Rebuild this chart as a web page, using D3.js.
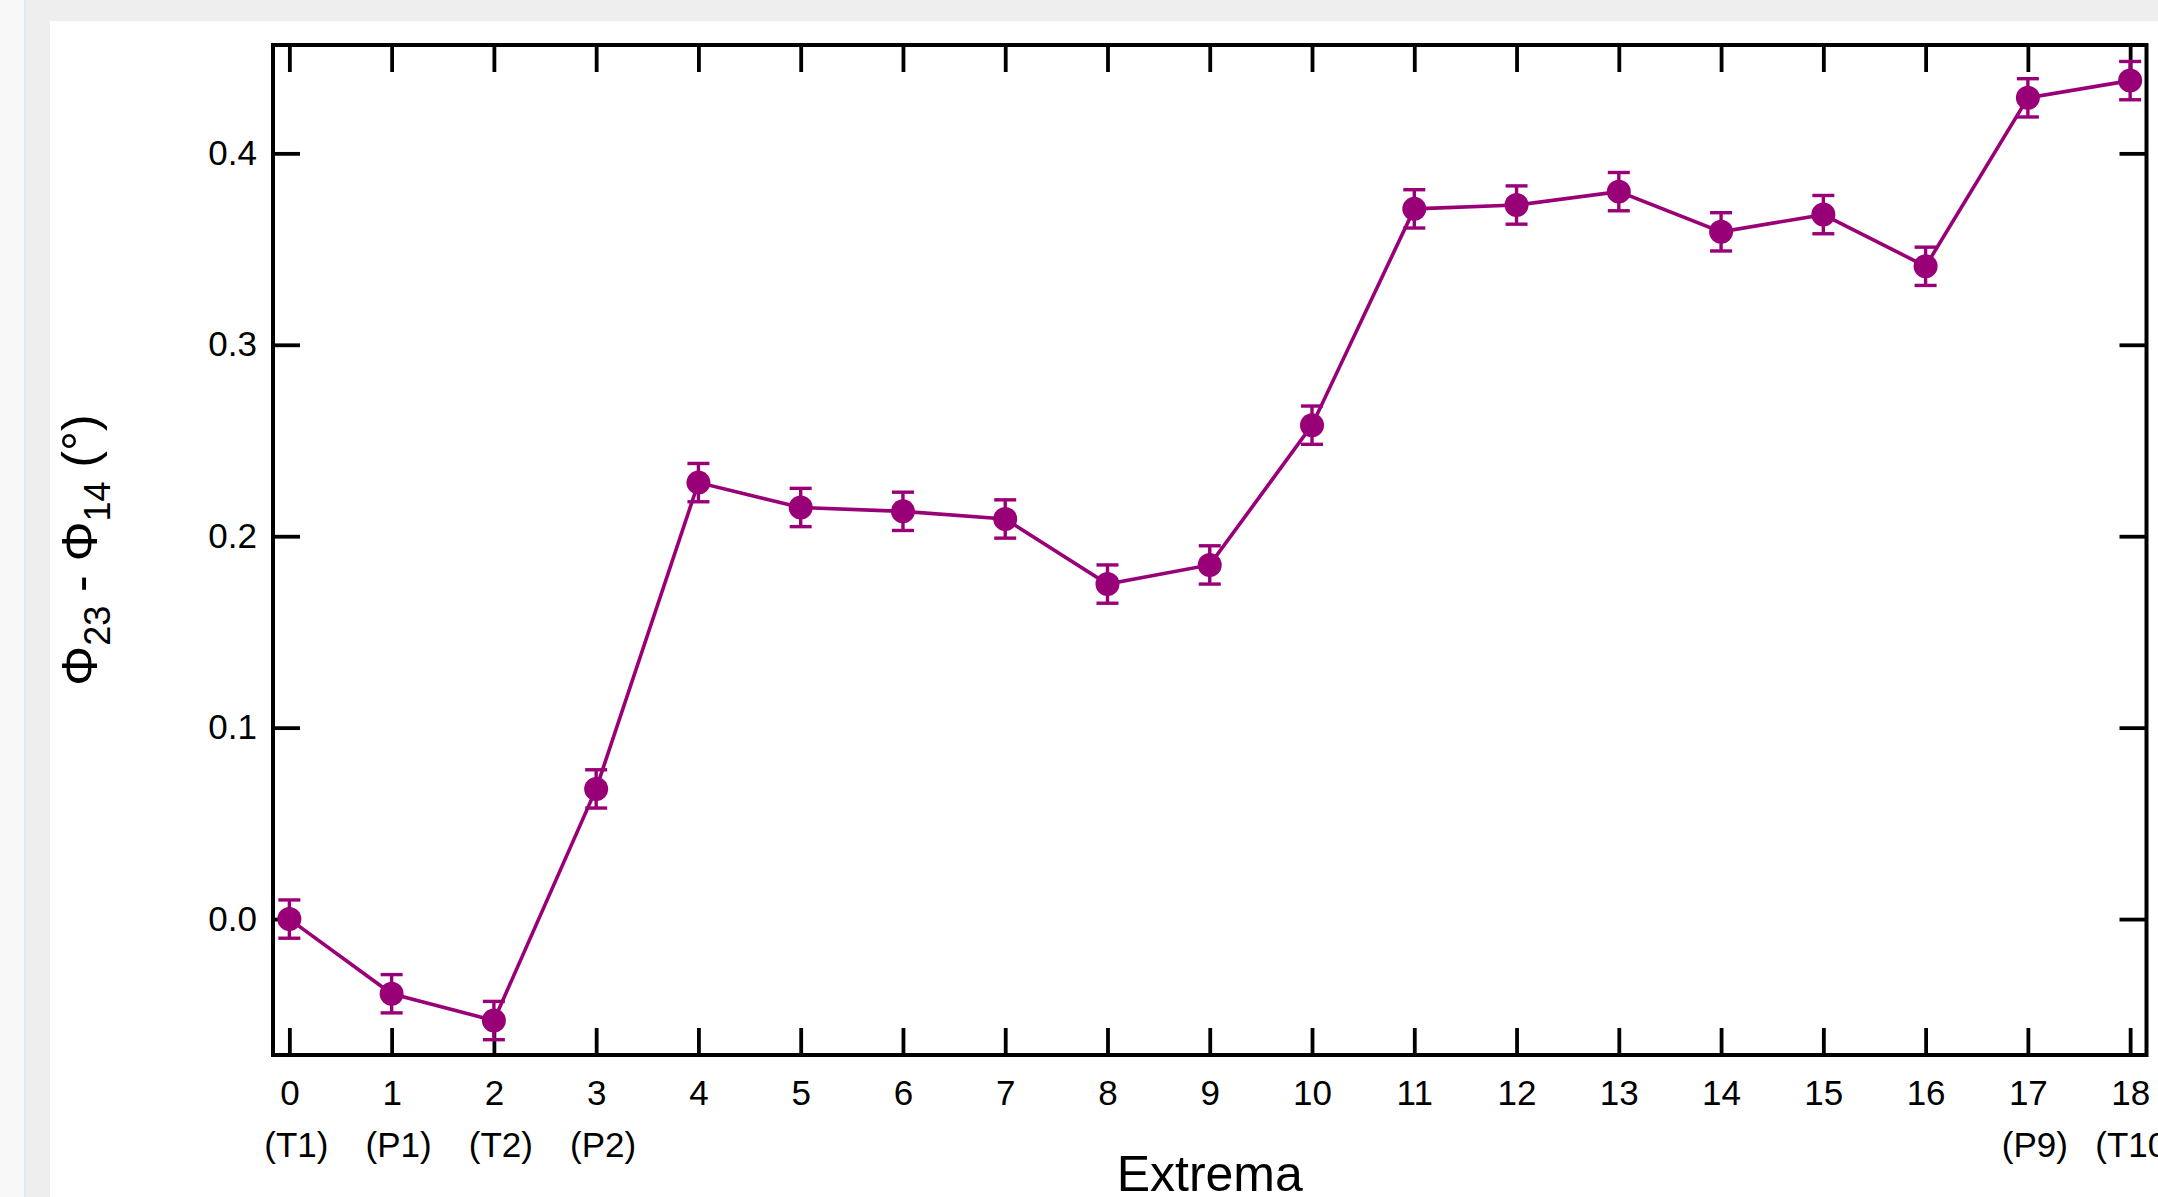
<!DOCTYPE html>
<html>
<head>
<meta charset="utf-8">
<script src="https://cdn.jsdelivr.net/npm/d3@7"></script>
<style>
  html, body { margin: 0; padding: 0; background: #eeeeee; overflow: hidden; }
  svg { display: block; }
  text { font-family: "Liberation Sans", Arial, Helvetica, sans-serif; fill: #000; }
</style>
</head>
<body>
<svg id="chart" width="2158" height="1197"></svg>
<script>
// ---- data ----
const extremaIndex = [0,1,2,3,4,5,6,7,8,9,10,11,12,13,14,15,16,17,18];
const phaseDiff    = [0.000,-0.039,-0.053,0.068,0.228,0.215,0.213,0.209,0.175,0.185,0.258,0.371,0.373,0.380,0.359,0.368,0.341,0.429,0.438];
const phaseErr     = [0.010,0.010,0.010,0.010,0.010,0.010,0.010,0.010,0.010,0.010,0.010,0.010,0.010,0.010,0.010,0.010,0.010,0.010,0.010];
const yTickValues  = [0.0,0.1,0.2,0.3,0.4];
const tagIndex     = [0,1,2,3,17,18];
const tagLabels    = ["(T1)","(P1)","(T2)","(P2)","(P9)","(T10)"];

const color = "#990077";
const svg = d3.select("#chart");

// page background pieces
svg.append("rect").attr("x",0).attr("y",0).attr("width",2158).attr("height",1197).attr("fill","#eeeeee");
svg.append("rect").attr("x",0).attr("y",0).attr("width",24).attr("height",1197).attr("fill","#f8f8f8");
svg.append("rect").attr("x",24).attr("y",0).attr("width",2).attr("height",1197).attr("fill","#e1eaf4");
svg.append("rect").attr("x",50).attr("y",21).attr("width",2108).attr("height",1176).attr("fill","#ffffff");

const L = 273, R = 2146.5, T = 45, B = 1055;
const x = d3.scaleLinear().domain([-0.16, 18.16]).range([L, R]);
const y = d3.scaleLinear().domain([-0.071, 0.4566]).range([B, T]);

const tickLen = 27;
const fs = 35;

function styleAxis(g){
  g.select(".domain").remove();
  g.selectAll(".tick line").attr("stroke","#000").attr("stroke-width",3.8);
  g.selectAll(".tick text").attr("font-size",fs).attr("font-family","'Liberation Sans', Arial, sans-serif").attr("fill","#000");
}

// bottom axis
svg.append("g").attr("transform",`translate(0,${B})`)
  .call(d3.axisBottom(x).tickValues(extremaIndex).tickFormat(d3.format("d")).tickSizeInner(-tickLen).tickSizeOuter(0).tickPadding(25))
  .call(styleAxis);
// top axis
svg.append("g").attr("transform",`translate(0,${T})`)
  .call(d3.axisTop(x).tickValues(extremaIndex).tickFormat("").tickSizeInner(-tickLen).tickSizeOuter(0))
  .call(styleAxis);
// left axis
svg.append("g").attr("transform",`translate(${L},0)`)
  .call(d3.axisLeft(y).tickValues(yTickValues).tickFormat(d3.format(".1f")).tickSizeInner(-tickLen).tickSizeOuter(0).tickPadding(16))
  .call(styleAxis);
// right axis
svg.append("g").attr("transform",`translate(${R},0)`)
  .call(d3.axisRight(y).tickValues(yTickValues).tickFormat("").tickSizeInner(-tickLen).tickSizeOuter(0))
  .call(styleAxis);

// frame
svg.append("rect").attr("x",L).attr("y",T).attr("width",R-L).attr("height",B-T)
  .attr("fill","none").attr("stroke","#000").attr("stroke-width",4);

// secondary labels
svg.append("g").selectAll("text").data(tagIndex).join("text")
  .attr("x",(d)=>x(d)+7).attr("y",1157).attr("text-anchor","middle").attr("font-size",fs)
  .text((d,i)=>tagLabels[i]);

// axis titles
svg.append("text").attr("x",(L+R)/2).attr("y",1191).attr("text-anchor","middle").attr("font-size",50).text("Extrema");

const yt = svg.append("text").attr("transform","translate(97,550) rotate(-90)").attr("text-anchor","middle").attr("font-size",50);
yt.append("tspan").text("Φ");
yt.append("tspan").attr("font-size",36).attr("dy",13).text("23");
yt.append("tspan").attr("dy",-13).text(" - Φ");
yt.append("tspan").attr("font-size",36).attr("dy",13).text("14");
yt.append("tspan").attr("dy",-13).text(" (°)");

// data
const pts = extremaIndex.map((d,i)=>({i:d, v:phaseDiff[i], e:phaseErr[i]}));
svg.append("path").datum(pts)
  .attr("d", d3.line().x(d=>x(d.i)).y(d=>y(d.v)))
  .attr("fill","none").attr("stroke",color).attr("stroke-width",3.6);

const eb = svg.append("g").attr("stroke",color).attr("stroke-width",3.4);
const cap = 11;
eb.selectAll(".v").data(pts).join("line").attr("class","v")
  .attr("x1",d=>x(d.i)).attr("x2",d=>x(d.i)).attr("y1",d=>y(d.v-d.e)).attr("y2",d=>y(d.v+d.e));
eb.selectAll(".t").data(pts).join("line").attr("class","t")
  .attr("x1",d=>x(d.i)-cap).attr("x2",d=>x(d.i)+cap).attr("y1",d=>y(d.v+d.e)).attr("y2",d=>y(d.v+d.e));
eb.selectAll(".b").data(pts).join("line").attr("class","b")
  .attr("x1",d=>x(d.i)-cap).attr("x2",d=>x(d.i)+cap).attr("y1",d=>y(d.v-d.e)).attr("y2",d=>y(d.v-d.e));

svg.append("g").selectAll("circle").data(pts).join("circle")
  .attr("cx",d=>x(d.i)).attr("cy",d=>y(d.v)).attr("r",12).attr("fill",color);
</script>
</body>
</html>
